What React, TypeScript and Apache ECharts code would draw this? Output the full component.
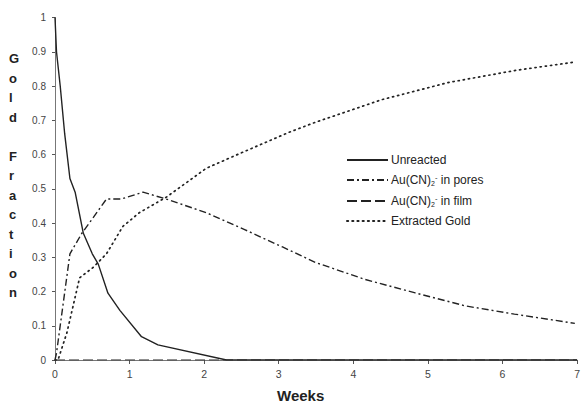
import React, { useEffect, useRef } from "react";
import * as echarts from "echarts";

const seriesNames = ["Unreacted", "Au(CN)2- in pores", "Au(CN)2- in film", "Extracted Gold"];

const unreacted: [number, number][] = [
  [0, 1], [0.02, 0.9], [0.07, 0.8], [0.13, 0.66], [0.2, 0.53], [0.27, 0.49],
  [0.38, 0.37], [0.5, 0.31], [0.58, 0.28], [0.71, 0.195], [0.87, 0.145],
  [1.16, 0.068], [1.38, 0.044], [2.3, 0], [7, 0],
];

const pores: [number, number][] = [
  [0, 0], [0.02, 0.02], [0.2, 0.31], [0.36, 0.37], [0.51, 0.415], [0.69, 0.47],
  [0.89, 0.47], [1.18, 0.49], [1.49, 0.47], [2.03, 0.43], [2.55, 0.38],
  [3.05, 0.33], [3.49, 0.285], [4.16, 0.235], [4.83, 0.196], [5.5, 0.158],
  [6.16, 0.134], [6.97, 0.107],
];

const film: [number, number][] = [
  [0, 0], [1, 0], [2, 0], [3, 0], [4, 0], [5, 0], [6, 0], [7, 0],
];

const extracted: [number, number][] = [
  [0, 0], [0.04, 0], [0.16, 0.08], [0.33, 0.24], [0.51, 0.27], [0.69, 0.31],
  [0.91, 0.39], [1.13, 0.43], [1.49, 0.475], [2.03, 0.56], [2.5, 0.605],
  [3.14, 0.665], [3.49, 0.694], [4.38, 0.76], [5.27, 0.81], [6.16, 0.845],
  [6.97, 0.87],
];

const yTitleLetters = ["G", "o", "l", "d", "", "F", "r", "a", "c", "t", "i", "o", "n"];

const ink = "#222";
const font = "Liberation Sans, Arial, sans-serif";

export default function App() {
  const ref = useRef<HTMLDivElement>(null);
  useEffect(() => {
    if (!ref.current) return;
    const chart = echarts.init(ref.current, undefined, { renderer: "svg" });
    const mkLine = (name: string, data: [number, number][], type: any, width: number, cap: any = "butt") => ({
      name,
      type: "line",
      data,
      symbol: "none",
      showSymbol: false,
      lineStyle: { color: ink, width, type, cap },
      itemStyle: { color: ink },
      z: 3,
    });
    chart.setOption({
      animation: false,
      backgroundColor: "#fff",
      grid: { left: 55, right: 4, top: 17.5, bottom: 47, containLabel: false },
      legend: {
        orient: "vertical",
        left: 341,
        top: 149,
        itemWidth: 41,
        itemHeight: 10,
        itemGap: 7,
        data: seriesNames,
        itemStyle: { opacity: 0 },
        textStyle: {
          fontFamily: font,
          fontSize: 12,
          color: ink,
          padding: [0, 0, 0, -2],
          rich: {
            b: { fontSize: 12, color: ink, fontFamily: font, lineHeight: 14 },
            sub: { fontSize: 7, color: ink, verticalAlign: "bottom", lineHeight: 14, fontFamily: font },
            sup: { fontSize: 7.5, color: ink, verticalAlign: "top", lineHeight: 14, fontFamily: font },
          },
        },
        formatter: (name: string) => {
          if (name.startsWith("Au(CN)2-")) {
            return "{b|Au(CN)}{sub|2}{sup|-}{b|" + name.slice(8) + "}";
          }
          return "{b|" + name + "}";
        },
      },
      xAxis: {
        type: "value",
        min: 0,
        max: 7,
        interval: 1,
        splitLine: { show: false },
        axisLine: { lineStyle: { color: "#777", width: 1 } },
        axisTick: { show: true, length: 4, inside: false, lineStyle: { color: "#555" } },
        axisLabel: { color: "#444", fontSize: 10.5, margin: 8, fontFamily: font, showMaxLabel: true, showMinLabel: true, hideOverlap: false },
      },
      yAxis: {
        type: "value",
        min: 0,
        max: 1,
        interval: 0.1,
        splitLine: { show: false },
        axisLine: { show: true, lineStyle: { color: "#777", width: 1 } },
        axisTick: { show: true, length: 3, lineStyle: { color: "#555" } },
        axisLabel: { color: "#444", fontSize: 10, margin: 9, fontFamily: font, showMaxLabel: true },
      },
      graphic: [
        {
          type: "text",
          left: 9,
          top: 49,
          style: {
            text: yTitleLetters.join("\n"),
            fontSize: 13,
            fontWeight: "bold",
            fontFamily: font,
            lineHeight: 19.5,
            align: "center",
            fill: ink,
            width: 16,
          },
        },
        {
          type: "text",
          left: 277,
          top: 388,
          style: {
            text: "Weeks",
            fontSize: 15,
            fontWeight: "bold",
            fontFamily: font,
            fill: ink,
          },
        },
      ],
      series: [
        mkLine(seriesNames[0], unreacted, "solid", 1.4),
        mkLine(seriesNames[1], pores, [7, 3, 2, 3], 1.4),
        mkLine(seriesNames[2], film, [10, 4], 1.2),
        mkLine(seriesNames[3], extracted, [1.2, 4], 1.7, "round"),
      ],
    });
    return () => chart.dispose();
  }, []);
  return <div ref={ref} style={{ width: 583, height: 407, position: "fixed", left: 0, top: 0 }} />;
}
